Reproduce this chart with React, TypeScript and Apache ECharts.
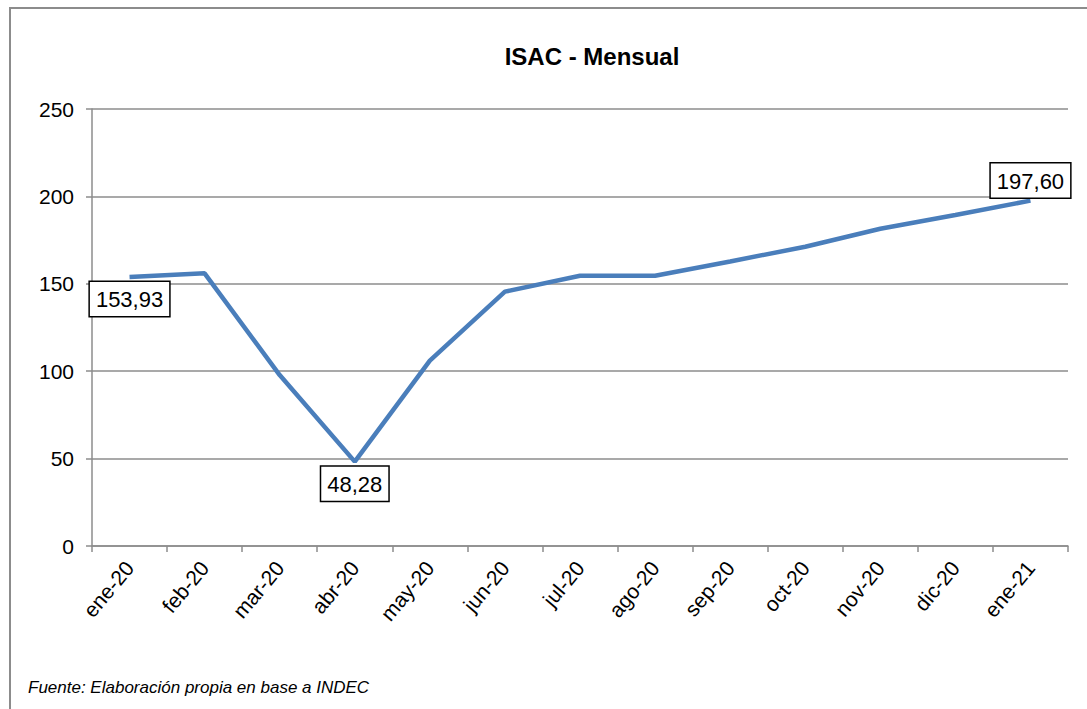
import React, { useEffect, useRef } from "react";
import * as echarts from "echarts";

const categories = [
  "ene-20", "feb-20", "mar-20", "abr-20", "may-20", "jun-20", "jul-20",
  "ago-20", "sep-20", "oct-20", "nov-20", "dic-20", "ene-21",
];
const isacValues = [
  153.93, 156.0, 97.8, 48.28, 106.0, 145.5, 154.6, 154.6, 162.8, 171.2, 181.5, 189.4, 197.6,
];
const labeledBelow = [0, 3];
const labeledAbove = [12];
const yTicks = [0, 50, 100, 150, 200, 250];

const FONT = "'Liberation Sans', Arial, sans-serif";

export default function App() {
  const ref = useRef<HTMLDivElement>(null);
  useEffect(() => {
    if (!ref.current) return;
    const chart = echarts.init(ref.current, undefined, { renderer: "svg" });
    const labelBox = {
      show: true,
      color: "#000",
      fontSize: 22,
      fontFamily: FONT,
      backgroundColor: "#fff",
      borderColor: "#000",
      borderWidth: 1.5,
      padding: [7, 6, 5, 6],
      formatter: (p: any) => Number(p.value).toFixed(2).replace(".", ","),
    };
    const data = isacValues.map((v, i) => {
      if (labeledBelow.includes(i)) {
        return { value: v, label: { ...labelBox, position: "bottom", distance: 5 } };
      }
      if (labeledAbove.includes(i)) {
        return { value: v, label: { ...labelBox, position: "top", distance: 3 } };
      }
      return { value: v };
    });
    chart.setOption({
      animation: false,
      backgroundColor: "#fff",
      title: {
        text: "ISAC - Mensual",
        left: 587,
        top: 39,
        textAlign: "center",
        textStyle: { fontFamily: FONT, fontSize: 24, fontWeight: "bold", color: "#000" },
      },
      grid: { left: 92, right: 19, top: 109, bottom: 163, containLabel: false },
      xAxis: {
        type: "category",
        data: categories,
        boundaryGap: true,
        axisLine: { show: true, lineStyle: { color: "#8c8c8c", width: 1.5 } },
        axisTick: { show: true, length: 6, interval: 0, lineStyle: { color: "#8c8c8c", width: 1.5 } },
        axisLabel: {
          interval: 0,
          rotate: 50,
          margin: 18,
          color: "#000",
          fontSize: 21,
          fontFamily: FONT,
        },
        splitLine: { show: false },
      },
      yAxis: {
        type: "value",
        min: 0,
        max: 250,
        interval: 50,
        axisLine: { show: true, lineStyle: { color: "#8c8c8c", width: 1.5 } },
        axisTick: { show: true, length: 6, lineStyle: { color: "#8c8c8c", width: 1.5 } },
        axisLabel: {
          margin: 18,
          color: "#000",
          fontSize: 21,
          fontFamily: FONT,
          formatter: (v: number) => (yTicks.includes(v) ? String(v) : ""),
        },
        splitLine: { show: true, lineStyle: { color: "#8c8c8c", width: 1.5 } },
      },
      series: [
        {
          type: "line",
          data,
          showSymbol: true,
          symbol: "circle",
          symbolSize: 0.1,
          lineStyle: { color: "#4a7ebb", width: 4.5 },
          itemStyle: { color: "#4a7ebb" },
          labelLayout: { hideOverlap: false },
          z: 3,
        },
      ],
      graphic: [
        {
          type: "rect",
          shape: { x: 10, y: 8, width: 2000, height: 2000 },
          style: { fill: "none", stroke: "#8c8c8c", lineWidth: 2 },
          silent: true,
        },
        {
          type: "text",
          left: 28,
          top: 679,
          style: {
            text: "Fuente: Elaboración propia en base a INDEC",
            fontFamily: FONT,
            fontSize: 17,
            fontStyle: "italic",
            fill: "#000",
          },
        },
      ],
    });
    return () => chart.dispose();
  }, []);
  return (
    <div
      ref={ref}
      style={{ position: "fixed", left: 0, top: 0, width: 1087, height: 709 }}
    />
  );
}
